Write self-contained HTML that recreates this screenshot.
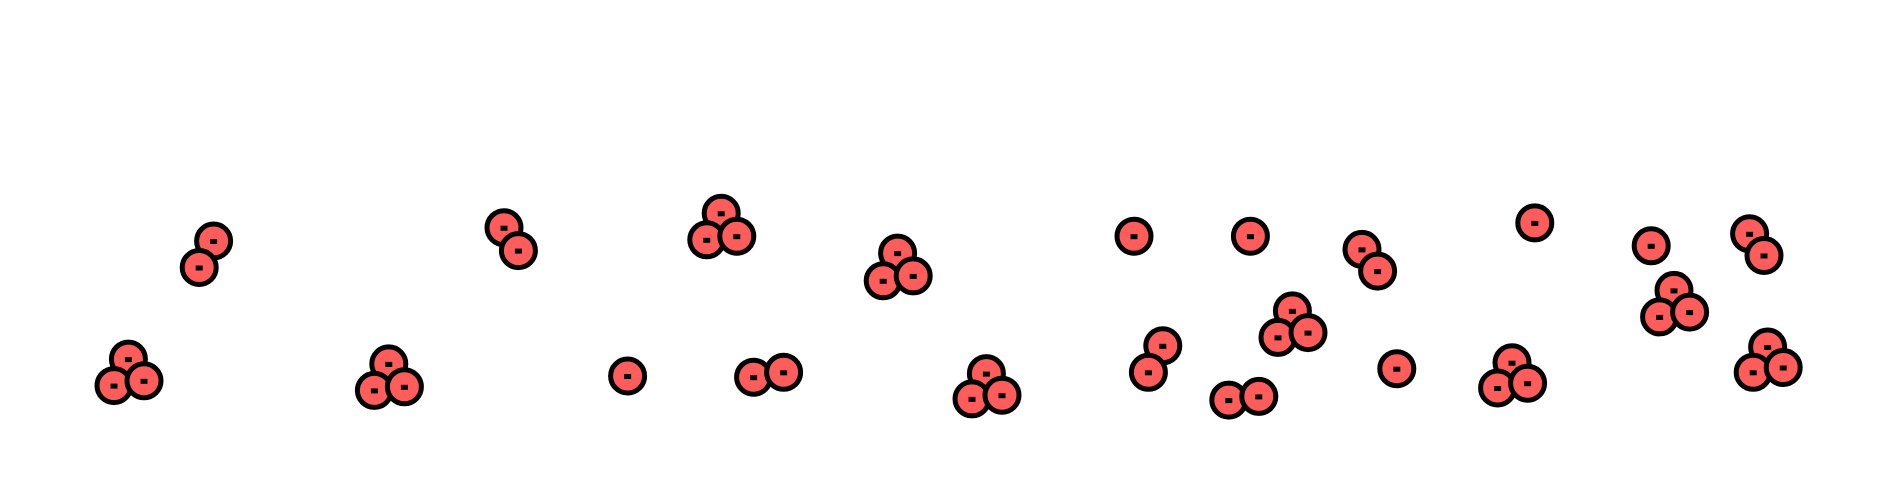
<!DOCTYPE html>
<html><head><meta charset="utf-8"><style>html,body{margin:0;padding:0;background:#fff}svg{display:block}</style></head>
<body>
<svg width="1880" height="498" viewBox="0 0 1880 498" xmlns="http://www.w3.org/2000/svg">
<g id="pts"></g>
</svg>
<script>
var P=[[178,200],[166,222],
[107,298],[95,320],[120,316],
[420,189],[432,208],
[324,302],[312,324],[337,321],
[601,177],[589,199],[614,196],
[523,312],
[628,313],[653,309],
[748,210],[736,233],[761,229],
[822,310],[810,331],[835,328],
[945,196],
[969,287],[957,309],
[1042,196],
[1077,258],[1065,280],[1090,276],
[1024,332],[1049,329],
[1135,207],[1148,225],
[1164,306],
[1279,185],
[1260,301],[1248,322],[1273,318],
[1376,204],
[1395,241],[1383,263],[1408,259],
[1458,194],[1470,212],
[1473,288],[1461,309],[1486,305]];
var g=document.getElementById('pts'),s='';
P.forEach(function(p){var x=(p[0]*1.2).toFixed(1),y=(p[1]*1.205).toFixed(1);
s+='<circle cx="'+x+'" cy="'+y+'" r="17" fill="#ff5c5c" stroke="#000" stroke-width="5"/>'+
'<rect x="'+(x-3.5)+'" y="'+(y-2)+'" width="7" height="5" fill="#000"/>';});
g.innerHTML=s;
</script>
</body></html>
